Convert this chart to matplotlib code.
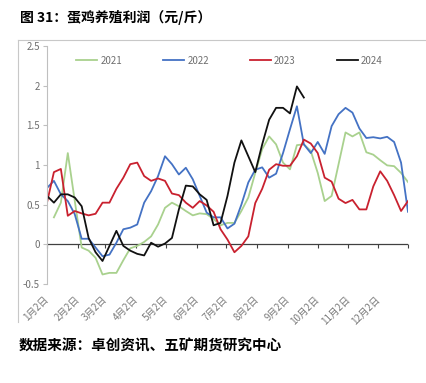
import numpy as np
import matplotlib
matplotlib.use("Agg")
from matplotlib import pyplot as plt
from matplotlib.lines import Line2D

plt.rcParams['font.family'] = ['Noto Sans CJK SC', 'DejaVu Sans']

# weekly profit, one value per week from 1月2日
y2021 = [np.nan, 0.34, 0.525, 1.15, 0.55, -0.04, -0.08, -0.17, -0.38, -0.36,
         -0.36, -0.2, -0.05, -0.02, 0.03, 0.10, 0.25, 0.46, 0.525, 0.48,
         0.42, 0.365, 0.39, 0.38, 0.32, 0.24, 0.27, 0.27, 0.42, 0.59,
         0.90, 1.20, 1.36, 1.26, 1.03, 0.945, 1.25, 1.26, 1.175, 0.90,
         0.545, 0.61, 1.01, 1.41, 1.36, 1.41, 1.16, 1.13, 1.06, 0.995,
         0.985, 0.90, 0.785]
y2022 = [0.71, 0.80, 0.63, 0.545, 0.38, 0.07, 0.07, -0.04, -0.15, -0.13,
         0.02, 0.19, 0.21, 0.25, 0.525, 0.67, 0.86, 1.11, 1.01, 0.88,
         0.965, 0.82, 0.61, 0.40, 0.34, 0.34, 0.20, 0.26, 0.50, 0.78,
         0.94, 0.97, 0.84, 0.89, 1.15, 1.45, 1.74, 1.26, 1.15, 1.29,
         1.14, 1.49, 1.64, 1.72, 1.66, 1.46, 1.34, 1.35, 1.335, 1.355,
         1.29, 1.03, 0.41]
y2023 = [0.525, 0.91, 0.95, 0.36, 0.42, 0.39, 0.365, 0.385, 0.525, 0.525,
         0.70, 0.84, 1.01, 1.03, 0.86, 0.80, 0.83, 0.80, 0.64, 0.62,
         0.525, 0.46, 0.545, 0.49, 0.41, 0.19, 0.06, -0.10, -0.02, 0.10,
         0.52, 0.70, 0.94, 1.01, 0.99, 0.99, 1.11, 1.32, 1.27, 1.15,
         0.84, 0.79, 0.575, 0.52, 0.56, 0.44, 0.44, 0.73, 0.92, 0.80,
         0.62, 0.42, 0.545]
y2024 = [0.61, 0.525, 0.63, 0.63, 0.59, 0.48, 0.08, -0.10, -0.21, -0.02,
         0.17, -0.02, -0.08, -0.12, -0.14, 0.02, -0.03, 0.01, 0.08, 0.44,
         0.74, 0.73, 0.63, 0.56, 0.24, 0.27, 0.61, 1.03, 1.31, 1.11,
         0.91, 1.26, 1.57, 1.72, 1.72, 1.65, 1.99, 1.85]

years = ['2021', '2022', '2023', '2024']
colors = ['#a9d18e', '#4472c4', '#c9212f', '#111111']

month_labels = ['1月2日', '2月2日', '3月2日', '4月2日', '5月2日', '6月2日',
                '7月2日', '8月2日', '9月2日', '10月2日', '11月2日', '12月2日']
month_days = [0, 31, 59, 90, 120, 151, 181, 212, 243, 273, 304, 334]

fig = plt.figure(figsize=(4.27, 3.83), dpi=100)
ax = fig.add_axes([0.110, 0.2585, 0.8455, 0.6215])

for name, vals, c in zip(years, [y2021, y2022, y2023, y2024], colors):
    ax.plot(np.arange(len(vals)), vals, color=c, lw=1.3, label=name)

ax.set_xlim(0, 52)
ax.set_ylim(-0.5, 2.5)
ax.set_yticks([-0.5, 0, 0.5, 1, 1.5, 2, 2.5])
ax.set_yticklabels(['-0.5', '0', '0.5', '1', '1.5', '2', '2.5'])
ax.tick_params(axis='y', colors='#bfbfbf', labelcolor='#6f6f6f', labelsize=7,
               length=3, width=0.8, pad=2)

tick_pos = [d / 7 for d in month_days]
ax.set_xticks(tick_pos)
ax.set_xticklabels(month_labels, rotation=45, ha='right', va='center',
                   rotation_mode='anchor', fontsize=7, color='#7a7a7a')
ax.tick_params(axis='x', length=0, pad=10)

for s in ['top', 'right', 'bottom']:
    ax.spines[s].set_visible(False)
ax.spines['left'].set_color('#bfbfbf')
ax.spines['left'].set_linewidth(0.8)

# zero line with its own tick marks
ax.axhline(0, color='#404040', lw=0.9, zorder=1)
sec = ax.secondary_xaxis(0.5 / 3.0)
sec.set_xticks(tick_pos + [52])
sec.set_xticklabels([])
sec.tick_params(length=3, width=0.8, color='#404040')
sec.spines['bottom'].set_visible(False)

ax.legend(loc='center', bbox_to_anchor=(0.505, 0.938), ncol=4, frameon=False,
          fontsize=7, handlelength=2.2, handletextpad=0.3, columnspacing=4.2,
          labelcolor='#6f6f6f')

# outer chart border (top and left)
fig.add_artist(Line2D([18 / 427, 1], [1 - 40 / 383, 1 - 40 / 383],
                      color='#c8c8c8', lw=0.8))
fig.add_artist(Line2D([18 / 427, 18 / 427], [1 - 40 / 383, 1 - 322 / 383],
                      color='#c8c8c8', lw=0.8))

fig.text(20 / 427, 1 - 17 / 383, '图 31：蛋鸡养殖利润（元/斤）', fontsize=10,
         fontweight='bold', va='center', ha='left')
fig.text(19 / 427, 1 - 345 / 383, '数据来源：卓创资讯、五矿期货研究中心', fontsize=10.5,
         fontweight='bold', va='center', ha='left')

fig.savefig('out.png', dpi=100)
